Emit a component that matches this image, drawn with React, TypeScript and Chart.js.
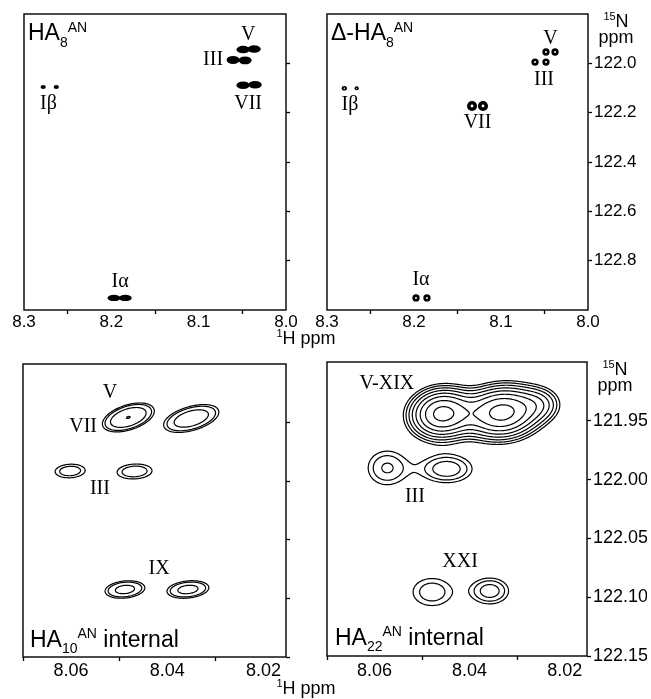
import React, { useEffect, useRef } from 'react';
import { Chart, registerables } from 'chart.js';
Chart.register(...registerables);

const W = 651;
const H = 699;
const SANS = '"Liberation Sans", Arial, Helvetica, sans-serif';
const SERIF = '"Liberation Serif", "Times New Roman", serif';

// ---------- axis data ----------
const TOP_H_RANGE = [8.0, 8.3];
const TOP_N_RANGE = [121.8, 123.0];
const TOP_H_LABELS = [8.3, 8.2, 8.1, 8.0];
const TOP_H_MINOR = [8.25, 8.15, 8.05];
const TOP_N_TICKS = [122.0, 122.2, 122.4, 122.6, 122.8];

const BOT_H_RANGE = [8.0153, 8.07];
const BOT_N_RANGE = [121.9, 122.15];
const BOT_H_LABELS = [8.06, 8.04, 8.02];
const BOT_H_MINOR = [8.07, 8.05, 8.03];
const BOT_N_TICKS = [121.95, 122.0, 122.05, 122.1, 122.15];

// ---------- peaks (1H ppm, 15N ppm, half widths in ppm) ----------
const HA8_PEAKS = [
  { h: 8.2780, n: 122.096, wh: 0.0030, wn: 0.0085 },
  { h: 8.2630, n: 122.096, wh: 0.0030, wn: 0.0085 },
  { h: 8.1970, n: 122.951, wh: 0.0074, wn: 0.0130 },
  { h: 8.1840, n: 122.951, wh: 0.0074, wn: 0.0130 },
  { h: 8.0491, n: 121.944, wh: 0.0076, wn: 0.0150 },
  { h: 8.0365, n: 121.942, wh: 0.0076, wn: 0.0150 },
  { h: 8.0606, n: 121.986, wh: 0.0074, wn: 0.0162 },
  { h: 8.0468, n: 121.988, wh: 0.0074, wn: 0.0162 },
  { h: 8.0491, n: 122.089, wh: 0.0076, wn: 0.0155 },
  { h: 8.0354, n: 122.087, wh: 0.0076, wn: 0.0155 },
];
const HA8_LABELS = [
  { text: 'V', h: 8.0434, n: 121.885 },
  { text: 'III', h: 8.0835, n: 121.986 },
  { text: 'VII', h: 8.0434, n: 122.165 },
  { text: 'Iβ', h: 8.2719, n: 122.163 },
  { text: 'Iα', h: 8.1900, n: 122.884 },
];

const DHA8_PEAKS = [
  { h: 8.2801, n: 122.101, wh: 0.0030, wn: 0.0095 },
  { h: 8.2659, n: 122.101, wh: 0.0024, wn: 0.0080 },
  { h: 8.1977, n: 122.951, wh: 0.0042, wn: 0.0148 },
  { h: 8.1851, n: 122.951, wh: 0.0042, wn: 0.0148 },
  { h: 8.1333, n: 122.173, wh: 0.0058, wn: 0.0205 },
  { h: 8.1207, n: 122.173, wh: 0.0058, wn: 0.0205 },
  { h: 8.0483, n: 121.954, wh: 0.0042, wn: 0.0148 },
  { h: 8.0379, n: 121.954, wh: 0.0042, wn: 0.0148 },
  { h: 8.0609, n: 121.995, wh: 0.0042, wn: 0.0148 },
  { h: 8.0483, n: 121.995, wh: 0.0042, wn: 0.0148 },
];
const DHA8_LABELS = [
  { text: 'V', h: 8.0431, n: 121.899 },
  { text: 'III', h: 8.0506, n: 122.068 },
  { text: 'VII', h: 8.1270, n: 122.240 },
  { text: 'Iα', h: 8.1920, n: 122.876 },
  { text: 'Iβ', h: 8.2736, n: 122.169 },
];

// gaussian peaks: sh / sn = linewidth (sigma) in ppm, tilt in degrees, amp relative
const HA10_PEAKS = [
  { h: 8.0481, n: 121.9456, sh: 0.00275, sn: 0.0052, tilt: 18, amp: 8.0 },
  { h: 8.0350, n: 121.9465, sh: 0.00313, sn: 0.0054, tilt: 16, amp: 6.0 },
  { h: 8.0602, n: 121.9913, sh: 0.00249, sn: 0.0046, tilt: 3, amp: 2.2 },
  { h: 8.0468, n: 121.9917, sh: 0.00282, sn: 0.0049, tilt: 3, amp: 2.3 },
  { h: 8.0488, n: 122.0924, sh: 0.00245, sn: 0.0043, tilt: 6, amp: 4.2 },
  { h: 8.0357, n: 122.0924, sh: 0.00258, sn: 0.0043, tilt: 6, amp: 4.2 },
];
const HA10_LEVELS = [1, 1.5, 3, 7.9];
const HA10_LABELS = [
  { text: 'V', h: 8.0519, n: 121.9247 },
  { text: 'VII', h: 8.0575, n: 121.9538 },
  { text: 'III', h: 8.0540, n: 122.0067 },
  { text: 'IX', h: 8.0417, n: 122.0750 },
];

const HA22_PEAKS = [
  { h: 8.0458, n: 121.9440, sh: 0.00389, sn: 0.01216, tilt: 6, amp: 9.0 },
  { h: 8.0332, n: 121.9430, sh: 0.00463, sn: 0.01276, tilt: 6, amp: 9.2 },
  { h: 8.0252, n: 121.9357, sh: 0.00295, sn: 0.00935, tilt: 0, amp: 2.0 },
  { h: 8.0574, n: 121.9901, sh: 0.00347, sn: 0.0125, tilt: 0, amp: 1.9 },
  { h: 8.0448, n: 121.9910, sh: 0.00410, sn: 0.0090, tilt: 0, amp: 2.3 },
  { h: 8.0479, n: 122.0956, sh: 0.00387, sn: 0.01114, tilt: 0, amp: 1.7 },
  { h: 8.0357, n: 122.0947, sh: 0.00310, sn: 0.00870, tilt: 0, amp: 2.2 },
];
const HA22_LEVELS = [1, 1.35, 1.82, 2.46, 3.32, 4.48, 6.05, 8.17];
const HA22_LABELS = [
  { text: 'V-XIX', h: 8.0574, n: 121.9181 },
  { text: 'III', h: 8.0515, n: 122.0145 },
  { text: 'XXI', h: 8.0420, n: 122.0698 },
];

// ---------- helpers ----------
type Part = { t: string; size: number; dy?: number; family?: string };

const near = (arr: number[], v: number) => arr.some((a) => Math.abs(a - v) < 1e-7);

function richWidth(ctx: CanvasRenderingContext2D, parts: Part[]) {
  let w = 0;
  for (const p of parts) {
    ctx.font = `${p.size}px ${p.family || SANS}`;
    w += ctx.measureText(p.t).width;
  }
  return w;
}
function drawRich(ctx: CanvasRenderingContext2D, x: number, y: number, parts: Part[], center = false) {
  let cx = center ? x - richWidth(ctx, parts) / 2 : x;
  ctx.textAlign = 'left';
  ctx.textBaseline = 'alphabetic';
  for (const p of parts) {
    ctx.font = `${p.size}px ${p.family || SANS}`;
    ctx.fillText(p.t, cx, y + (p.dy || 0));
    cx += ctx.measureText(p.t).width;
  }
}

function drawContours(ctx: CanvasRenderingContext2D, ox: number, oy: number, field: Float32Array, nx: number, ny: number, step: number, level: number) {
  ctx.beginPath();
  for (let j = 0; j < ny - 1; j++) {
    for (let i = 0; i < nx - 1; i++) {
      const v0 = field[j * nx + i];
      const v1 = field[j * nx + i + 1];
      const v2 = field[(j + 1) * nx + i + 1];
      const v3 = field[(j + 1) * nx + i];
      const b0 = v0 >= level, b1 = v1 >= level, b2 = v2 >= level, b3 = v3 >= level;
      if (b0 === b1 && b1 === b2 && b2 === b3) continue;
      const x0 = ox + i * step, y0 = oy + j * step;
      let T: number[] | null = null, R: number[] | null = null, B: number[] | null = null, L: number[] | null = null;
      if (b0 !== b1) T = [x0 + (step * (level - v0)) / (v1 - v0), y0];
      if (b1 !== b2) R = [x0 + step, y0 + (step * (level - v1)) / (v2 - v1)];
      if (b3 !== b2) B = [x0 + (step * (level - v3)) / (v2 - v3), y0 + step];
      if (b0 !== b3) L = [x0, y0 + (step * (level - v0)) / (v3 - v0)];
      const seg = (a: number[], b: number[]) => {
        ctx.moveTo(a[0], a[1]);
        ctx.lineTo(b[0], b[1]);
      };
      if (T && R && B && L) {
        const c = (v0 + v1 + v2 + v3) / 4 >= level;
        if (b1 !== c) { seg(T, R); seg(B, L); } else { seg(T, L); seg(R, B); }
      } else {
        const list = [T, R, B, L].filter(Boolean) as number[][];
        if (list.length === 2) seg(list[0], list[1]);
      }
    }
  }
  ctx.stroke();
}

type Panel = {
  area: { left: number; top: number; right: number; bottom: number };
  hRange: number[]; nRange: number[];
  hLabels: number[]; hMinor: number[]; hDigits: number; hFont: number; hPad: number;
  nTicks: number[]; nDigits: number; nFont: number; showN: boolean;
  peaks: any[]; levels?: number[]; mode: 'blob' | 'ring' | 'contour';
  labels: { text: string; h: number; n: number }[];
  title: Part[]; titleBottom: boolean; titleDx: number; titleDy: number;
  hTitle?: { dx: number; dy: number };
  nTitle?: boolean;
};

const PANELS: Panel[] = [
  {
    area: { left: 24, top: 14, right: 286, bottom: 310 },
    hRange: TOP_H_RANGE, nRange: TOP_N_RANGE,
    hLabels: TOP_H_LABELS, hMinor: TOP_H_MINOR, hDigits: 1, hFont: 17, hPad: 0,
    nTicks: TOP_N_TICKS, nDigits: 1, nFont: 17, showN: false,
    peaks: HA8_PEAKS, mode: 'blob', labels: HA8_LABELS,
    title: [{ t: 'HA', size: 23 }, { t: '8', size: 14, dy: 7 }, { t: 'AN', size: 14, dy: -8 }],
    titleBottom: false, titleDx: 4, titleDy: 26,
    hTitle: { dx: 20, dy: 34 },
  },
  {
    area: { left: 327, top: 14, right: 588, bottom: 310 },
    hRange: TOP_H_RANGE, nRange: TOP_N_RANGE,
    hLabels: TOP_H_LABELS, hMinor: TOP_H_MINOR, hDigits: 1, hFont: 17, hPad: 0,
    nTicks: TOP_N_TICKS, nDigits: 1, nFont: 17, showN: true,
    peaks: DHA8_PEAKS, mode: 'ring', labels: DHA8_LABELS,
    title: [{ t: 'Δ-HA', size: 23 }, { t: '8', size: 14, dy: 7 }, { t: 'AN', size: 14, dy: -8 }],
    titleBottom: false, titleDx: 4, titleDy: 26,
    nTitle: true,
  },
  {
    area: { left: 23, top: 364, right: 286, bottom: 657 },
    hRange: BOT_H_RANGE, nRange: BOT_N_RANGE,
    hLabels: BOT_H_LABELS, hMinor: BOT_H_MINOR, hDigits: 2, hFont: 18, hPad: 1,
    nTicks: BOT_N_TICKS, nDigits: 2, nFont: 18, showN: false,
    peaks: HA10_PEAKS, levels: HA10_LEVELS, mode: 'contour', labels: HA10_LABELS,
    title: [{ t: 'HA', size: 23 }, { t: '10', size: 14, dy: 6 }, { t: 'AN', size: 14, dy: -9 }, { t: ' internal', size: 23 }],
    titleBottom: true, titleDx: 7, titleDy: -10,
    hTitle: { dx: 20, dy: 37 },
  },
  {
    area: { left: 327, top: 362, right: 587, bottom: 656 },
    hRange: BOT_H_RANGE, nRange: BOT_N_RANGE,
    hLabels: BOT_H_LABELS, hMinor: BOT_H_MINOR, hDigits: 2, hFont: 18, hPad: 2,
    nTicks: BOT_N_TICKS, nDigits: 2, nFont: 18, showN: true,
    peaks: HA22_PEAKS, levels: HA22_LEVELS, mode: 'contour', labels: HA22_LABELS,
    title: [{ t: 'HA', size: 23 }, { t: '22', size: 14, dy: 6 }, { t: 'AN', size: 14, dy: -9 }, { t: ' internal', size: 23 }],
    titleBottom: true, titleDx: 8, titleDy: -11,
    nTitle: true,
  },
];

function makePlugin(p: Panel) {
  return {
    id: 'nmrPanel',
    afterDraw(chart: any) {
      const ctx: CanvasRenderingContext2D = chart.ctx;
      const ca = chart.chartArea;
      const xs = chart.scales.x;
      const ys = chart.scales.y;
      const kx = Math.abs(xs.getPixelForValue(xs.max) - xs.getPixelForValue(xs.min)) / (xs.max - xs.min);
      const ky = Math.abs(ys.getPixelForValue(ys.max) - ys.getPixelForValue(ys.min)) / (ys.max - ys.min);
      const meta = chart.getDatasetMeta(0);
      ctx.save();
      ctx.fillStyle = '#000';
      ctx.strokeStyle = '#000';

      if (p.mode === 'contour') {
        const step = 1;
        const nx = Math.floor((ca.right - ca.left) / step) + 1;
        const ny = Math.floor((ca.bottom - ca.top) / step) + 1;
        const field = new Float32Array(nx * ny);
        const pk = meta.data.map((el: any, i: number) => {
          const d = p.peaks[i];
          const th = (d.tilt * Math.PI) / 180;
          return { cx: el.x, cy: el.y, sa: d.sh * kx, sb: d.sn * ky, c: Math.cos(th), s: Math.sin(th), a: d.amp };
        });
        for (let j = 0; j < ny; j++) {
          const py = ca.top + j * step;
          for (let i = 0; i < nx; i++) {
            const px = ca.left + i * step;
            let v = 0;
            for (const q of pk) {
              const dx = px - q.cx, dy = py - q.cy;
              const u = dx * q.c - dy * q.s;
              const w = dx * q.s + dy * q.c;
              const e = 0.5 * ((u * u) / (q.sa * q.sa) + (w * w) / (q.sb * q.sb));
              if (e < 30) v += q.a * Math.exp(-e);
            }
            field[j * nx + i] = v;
          }
        }
        ctx.lineWidth = 1.2;
        ctx.lineCap = 'round';
        for (const lv of p.levels || []) drawContours(ctx, ca.left, ca.top, field, nx, ny, step, lv);
      } else {
        meta.data.forEach((el: any, i: number) => {
          const d = p.peaks[i];
          const rx = d.wh * kx, ry = d.wn * ky;
          ctx.fillStyle = '#000';
          ctx.beginPath();
          ctx.ellipse(el.x, el.y, rx, ry, 0, 0, Math.PI * 2);
          ctx.fill();
          if (p.mode === 'ring') {
            ctx.fillStyle = '#fff';
            ctx.beginPath();
            ctx.ellipse(el.x, el.y, rx * 0.28, ry * 0.28, 0, 0, Math.PI * 2);
            ctx.fill();
          }
        });
      }

      // peak labels
      ctx.fillStyle = '#000';
      ctx.textAlign = 'center';
      ctx.textBaseline = 'middle';
      ctx.font = `20px ${SERIF}`;
      for (const lb of p.labels) {
        ctx.fillText(lb.text, xs.getPixelForValue(lb.h), ys.getPixelForValue(lb.n));
      }

      // frame
      ctx.lineWidth = 1.5;
      ctx.strokeStyle = '#111';
      ctx.strokeRect(ca.left, ca.top, ca.right - ca.left, ca.bottom - ca.top);

      // title
      const ty = p.titleBottom ? ca.bottom + p.titleDy : ca.top + p.titleDy;
      drawRich(ctx, ca.left + p.titleDx, ty, p.title);

      // 1H axis title
      if (p.hTitle) {
        drawRich(ctx, ca.right + p.hTitle.dx, ca.bottom + p.hTitle.dy, [
          { t: '1', size: 11, dy: -7 },
          { t: 'H ppm', size: 18 },
        ], true);
      }
      // 15N axis title
      if (p.nTitle) {
        drawRich(ctx, ca.right + 28, ca.top + 13, [
          { t: '15', size: 11, dy: -7 },
          { t: 'N', size: 18 },
        ], true);
        drawRich(ctx, ca.right + 28, ca.top + 29, [{ t: 'ppm', size: 18 }], true);
      }
      ctx.restore();
    },
  };
}

const X_AXIS_H = 30;
const Y_AXIS_W = 60;

function buildConfig(p: Panel): any {
  const hTicks = [...p.hLabels, ...p.hMinor].sort((a, b) => a - b);
  const a = p.area;
  return {
    type: 'scatter',
    data: {
      datasets: [
        {
          data: p.peaks.map((d) => ({ x: d.h, y: d.n })),
          pointRadius: 0,
          pointHoverRadius: 0,
          showLine: false,
        },
      ],
    },
    options: {
      animation: false,
      responsive: false,
      maintainAspectRatio: false,
      devicePixelRatio: 1,
      events: [],
      layout: {
        padding: {
          left: a.left,
          top: a.top,
          right: W - a.right - Y_AXIS_W,
          bottom: H - a.bottom - X_AXIS_H,
        },
      },
      plugins: { legend: { display: false }, tooltip: { enabled: false }, title: { display: false } },
      scales: {
        x: {
          type: 'linear',
          position: 'bottom',
          reverse: true,
          min: p.hRange[0],
          max: p.hRange[1],
          afterBuildTicks: (s: any) => {
            s.ticks = hTicks.map((v) => ({ value: v }));
          },
          afterFit: (s: any) => {
            s.height = X_AXIS_H;
          },
          grid: {
            drawOnChartArea: false,
            drawTicks: true,
            tickLength: 4,
            tickWidth: 1.3,
            tickColor: (c: any) => (c.tick && near(p.hMinor, c.tick.value) ? '#000' : 'rgba(0,0,0,0)'),
          },
          border: { display: false },
          ticks: {
            autoSkip: false,
            maxRotation: 0,
            minRotation: 0,
            padding: p.hPad,
            color: '#000',
            font: { family: SANS, size: p.hFont, lineHeight: 1 },
            callback: (v: number) => (near(p.hLabels, v) ? v.toFixed(p.hDigits) : ''),
          },
        },
        y: {
          type: 'linear',
          position: 'right',
          reverse: true,
          min: p.nRange[0],
          max: p.nRange[1],
          afterBuildTicks: (s: any) => {
            s.ticks = p.nTicks.map((v) => ({ value: v }));
          },
          afterFit: (s: any) => {
            s.width = Y_AXIS_W;
          },
          grid: {
            drawOnChartArea: false,
            drawTicks: true,
            tickLength: 4,
            tickWidth: 1.3,
            tickColor: '#000',
          },
          border: { display: false },
          ticks: {
            autoSkip: false,
            padding: 2,
            color: '#000',
            font: { family: SANS, size: p.nFont, lineHeight: 1 },
            callback: (v: number) => (p.showN ? v.toFixed(p.nDigits) : ''),
          },
        },
      },
    },
    plugins: [makePlugin(p)],
  };
}

export default function App() {
  const canvases = useRef<(HTMLCanvasElement | null)[]>([]);
  useEffect(() => {
    const charts = PANELS.map((p, i) => new Chart(canvases.current[i] as HTMLCanvasElement, buildConfig(p)));
    return () => charts.forEach((c) => c.destroy());
  }, []);
  return (
    <div style={{ position: 'absolute', left: 0, top: 0, width: W, height: H, background: '#fff', overflow: 'hidden' }}>
      {PANELS.map((_, i) => (
        <canvas
          key={i}
          ref={(el) => {
            canvases.current[i] = el;
          }}
          width={W}
          height={H}
          style={{ position: 'absolute', left: 0, top: 0, width: W, height: H }}
        />
      ))}
    </div>
  );
}
